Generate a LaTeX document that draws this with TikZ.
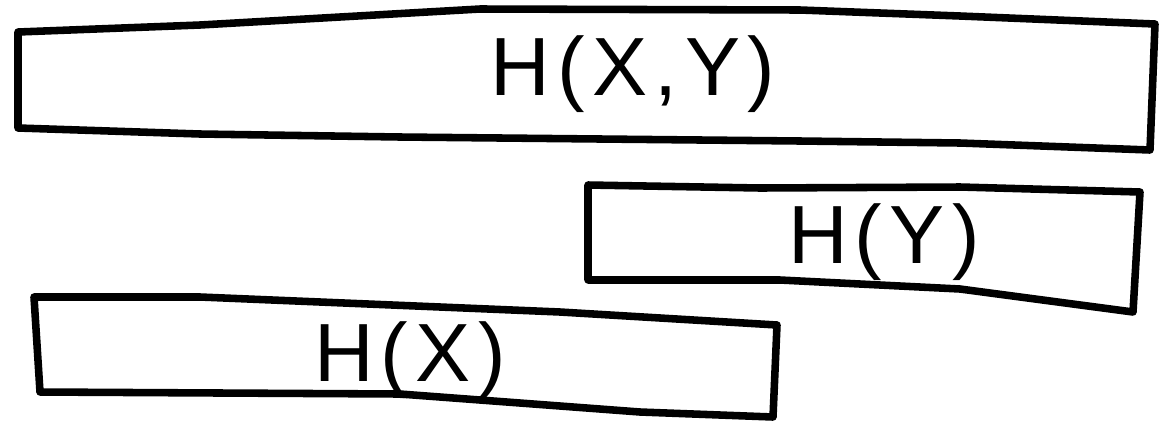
\documentclass[tikz,border=0pt]{standalone}
\usepackage{fontspec}
\setmainfont{Liberation Sans}
\newfontfamily\sketchfont[LetterSpace=9]{Liberation Sans}
\usetikzlibrary{positioning,calc}

\begin{document}
\begin{tikzpicture}[x=0.02cm, y=-0.02cm, every node/.style={font=\sketchfont\fontsize{47}{50}\selectfont}]
\definecolor{PAPER}{HTML}{FFFFFF}
\definecolor{INK}{HTML}{000000}
\tikzset{sketch/.style={draw=INK,line width=4.3pt,line join=round,line cap=round}}
\fill[PAPER] (0,0) rectangle (1159,427);
\useasboundingbox (0,0) rectangle (1159,427);
% joint entropy, the long box on top
\draw[sketch] (18,32) -- (200,25) -- (480,9) -- (800,10) -- (960,16) -- (1155,24) -- (1150,150) -- (960,143) -- (800,141) -- (400,137) -- (200,134) -- (18,128) -- cycle;
% H(Y), right part
\draw[sketch] (588,185) -- (760,188) -- (960,187) -- (1140,192) -- (1133,312) -- (960,289) -- (780,280) -- (588,280) -- cycle;
% H(X), left part
\draw[sketch] (34,297) -- (200,297) -- (560,312) -- (777,325) -- (773,417) -- (640,412) -- (400,394) -- (40,392) -- cycle;
\node[text=INK] (hxy) at (633,74) {H(X,Y)};
\node[text=INK] (hy) at (884,242) {H(Y)};
\node[text=INK] (hx) at (410,360) {H(X)};
\end{tikzpicture}
\end{document}
